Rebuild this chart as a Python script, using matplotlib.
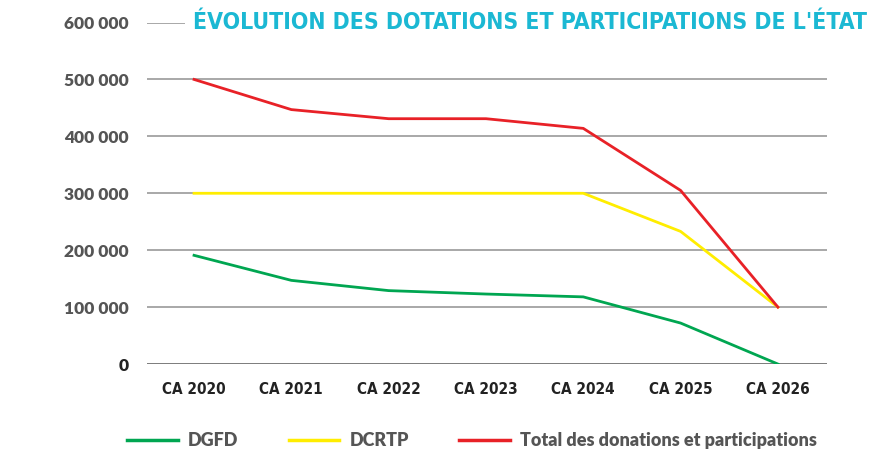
import numpy as np
import matplotlib.pyplot as plt

# Données
annees = ['CA 2020', 'CA 2021', 'CA 2022', 'CA 2023', 'CA 2024', 'CA 2025', 'CA 2026']
dgfd = [191000, 147000, 129000, 123000, 118000, 72000, 0]
dcrtp = [300000, 300000, 300000, 300000, 300000, 233000, 100000]
total = [500000, 447000, 431000, 431000, 414000, 305000, 100000]
yticks = [0, 100000, 200000, 300000, 400000, 500000, 600000]

fig = plt.figure(figsize=(8.82, 4.5), dpi=100)
ax = fig.add_axes([0.1667, 0.191, 0.7709, 0.759])

x = np.arange(len(annees))
ax.plot(x, dgfd, color='#00A651', lw=2, label='DGFD')
ax.plot(x, dcrtp, color='#FFED00', lw=2, label='DCRTP')
ax.plot(x, total, color='#E82127', lw=2, label='Total des donations et participations')

# grille horizontale
for v in yticks:
    c = '#666666' if v == 0 else '#9a9a9a'
    ax.axhline(v, color=c, lw=1.2, zorder=0)

ax.set_xlim(-0.483, 6.504)
ax.set_ylim(0, 600000)
ax.set_yticks(yticks)
ax.set_yticklabels(['0' if v == 0 else '{:,}'.format(v).replace(',', ' ') for v in yticks],
                   fontsize=12.5, fontweight='heavy', family='Lato')
for lab in ax.get_yticklabels():
    lab.set_color('#555555')
ax.get_yticklabels()[0].set_color('#222222')
ax.set_xticks(x)
ax.set_xticklabels(annees, fontsize=11, fontweight='bold', fontstretch='condensed',
                   family='DejaVu Sans', color='#222222')
ax.tick_params(axis='y', length=0, pad=13)
ax.tick_params(axis='x', length=0, pad=13)
for s in ax.spines.values():
    s.set_visible(False)

# titre, fond blanc pour masquer la ligne du haut
titre = ax.text(0.0671, 600000, "ÉVOLUTION DES DOTATIONS ET PARTICIPATIONS DE L'ÉTAT",
                transform=ax.get_yaxis_transform(), va='center', ha='left',
                fontsize=17, fontweight='bold', fontstretch='condensed', color='#1BB8D3',
                family='DejaVu Sans',
                bbox=dict(facecolor='white', edgecolor='none', pad=6))
fig.canvas.draw()
w = titre.get_window_extent().width
titre.set_fontsize(17 * 676 / w)

leg = fig.legend(loc='lower left', bbox_to_anchor=(0.126, -0.034), ncol=3, frameon=False,
                 handlelength=2.8, columnspacing=2.8, handletextpad=0.55,
                 prop={'family': 'Lato', 'weight': 'heavy', 'size': 13})
for t in leg.get_texts():
    t.set_color('#555555')
for l in leg.get_lines():
    l.set_linewidth(2.5)

fig.savefig('out.png', dpi=100)
